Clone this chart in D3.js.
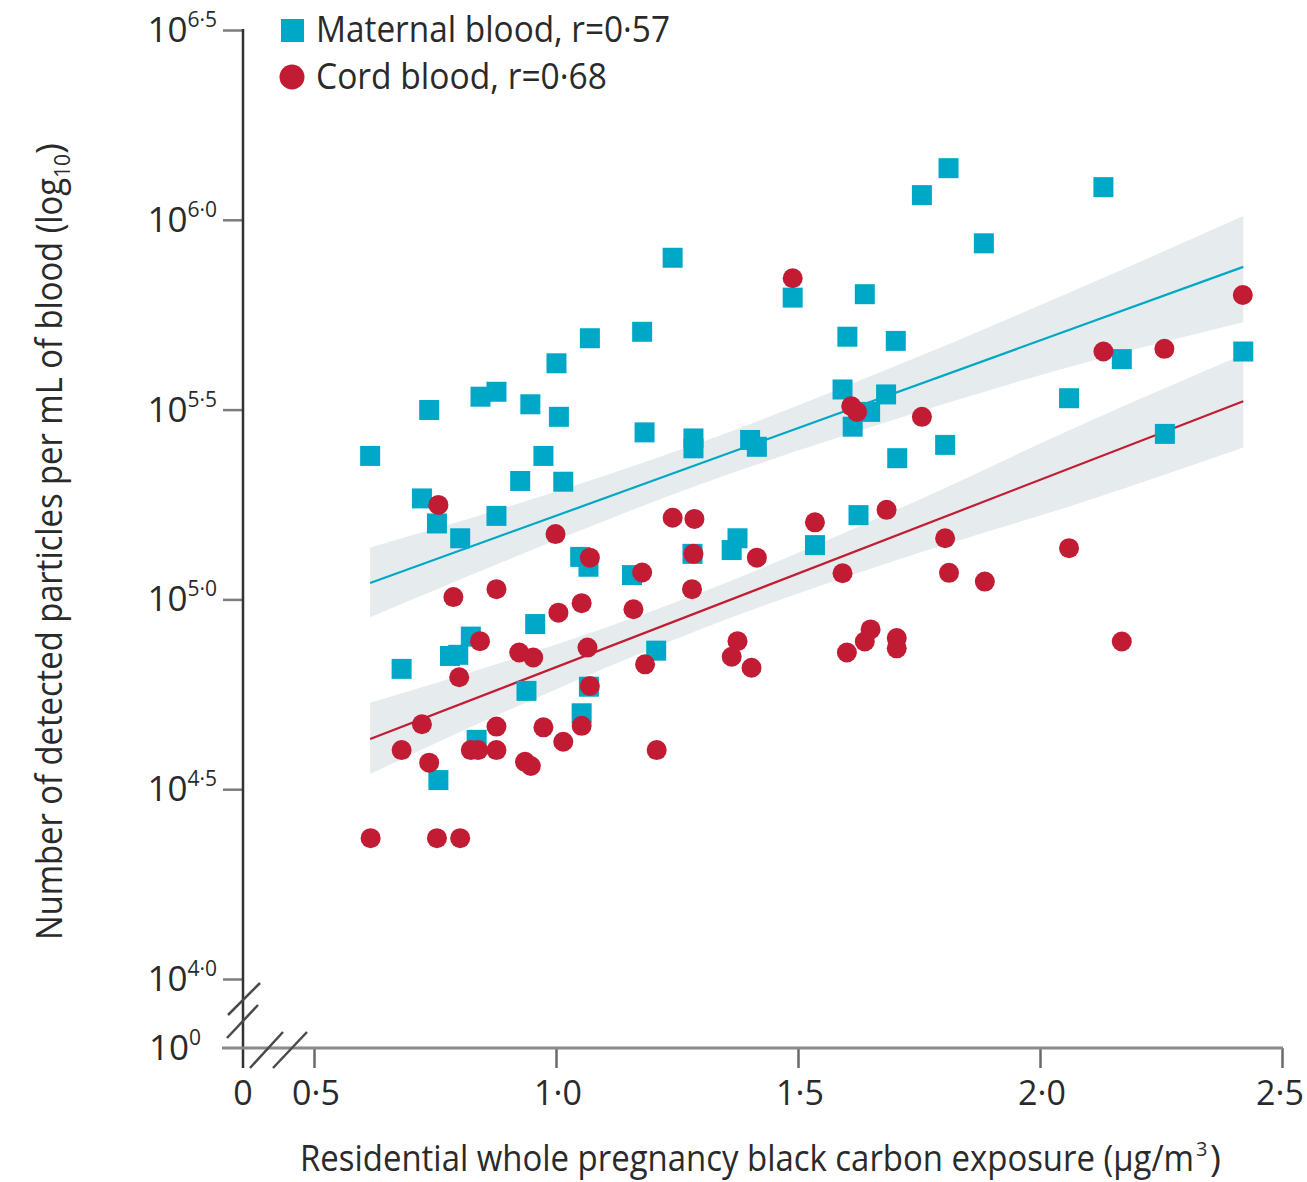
<!DOCTYPE html>
<html>
<head>
<meta charset="utf-8">
<script src="https://cdn.jsdelivr.net/npm/d3@7"></script>
<style>
  body { margin: 0; background: #fff; }
  svg { display: block; }
  text { font-family: "Open Sans", "Noto Sans", sans-serif; fill: #2a2a2a; }
</style>
</head>
<body>
<svg id="chart" width="1307" height="1182"></svg>
<script>
// Black carbon exposure (µg/m³) vs log10 particles per mL of blood
const maternalX = [0.616,0.723,0.738,0.754,0.802,0.681,0.757,0.781,0.798,0.824,
  0.844,0.877,0.877,0.836,0.926,0.947,0.974,0.957,0.939,1.001,
  1.006,1.015,1.050,1.067,1.070,1.053,1.068,1.157,1.178,1.183,
  1.207,1.241,1.284,1.284,1.282,1.363,1.375,1.401,1.415,1.489,
  1.535,1.592,1.602,1.613,1.625,1.638,1.649,1.682,1.702,1.705,
  1.756,1.811,1.804,1.884,2.060,2.131,2.169,2.258,2.420];
const maternalY = [5.378,5.266,5.499,5.200,5.161,4.817,4.524,4.851,4.854,4.902,
  5.534,5.547,5.220,4.630,5.312,5.514,5.378,4.935,4.759,5.622,
  5.481,5.310,5.112,5.086,5.688,4.700,4.770,5.064,5.705,5.440,
  4.865,5.900,5.424,5.398,5.120,5.130,5.161,5.420,5.402,5.795,
  5.143,5.553,5.692,5.455,5.222,5.804,5.494,5.540,5.681,5.372,
  6.065,6.136,5.407,5.938,5.530,6.086,5.633,5.436,5.653];

const cordX = [0.757,0.999,1.070,1.178,0.788,0.877,1.005,1.053,1.160,0.843,
  0.924,0.953,1.065,1.184,0.800,1.070,0.723,0.877,0.974,1.053,
  1.015,0.681,0.824,0.839,0.877,1.208,0.738,0.936,0.948,0.617,
  0.754,0.802,1.489,1.610,1.622,1.756,1.241,1.286,1.284,1.415,
  1.535,1.683,1.804,1.592,1.812,1.281,1.375,1.363,1.404,1.601,
  1.638,1.650,1.704,1.704,2.419,2.131,2.257,2.060,1.886,2.169];
const cordY = [5.249,5.172,5.110,5.071,5.006,5.027,4.965,4.990,4.974,4.890,
  4.860,4.847,4.873,4.829,4.795,4.772,4.671,4.665,4.663,4.667,
  4.625,4.603,4.603,4.603,4.603,4.603,4.570,4.572,4.561,4.371,
  4.371,4.371,5.846,5.509,5.494,5.481,5.215,5.212,5.120,5.110,
  5.203,5.236,5.161,5.069,5.070,5.027,4.890,4.849,4.820,4.860,
  4.889,4.921,4.898,4.871,5.802,5.653,5.660,5.135,5.047,4.889];

// Regression fits and their 95% confidence bands
const fitX = [0.616, 2.420];
const maternalFitY = [5.043, 5.876];
const cordFitY = [4.632, 5.522];
const ciX = [0.616, 0.9, 1.3, 1.7, 2.1, 2.42];
const maternalLo = [4.953, 5.104, 5.304, 5.474, 5.626, 5.730];
const maternalHi = [5.137, 5.244, 5.414, 5.614, 5.830, 6.010];
const cordLo = [4.540, 4.707, 4.922, 5.102, 5.261, 5.400];
const cordHi = [4.728, 4.839, 5.018, 5.234, 5.468, 5.645];

// Axis ticks
const xTicks = [0.5, 1.0, 1.5, 2.0, 2.5];
const xTickLabels = ["0·5", "1·0", "1·5", "2·0", "2·5"];
const yTicks = [6.5, 6.0, 5.5, 5.0, 4.5, 4.0];
const yTickExps = ["6·5", "6·0", "5·5", "5·0", "4·5", "4·0"];

const seriesNames = ["Maternal blood, r=0·57", "Cord blood, r=0·68"];

const BLUE = "#00a8c8";
const RED = "#c11c34";
const BAND = "#e6eced";

const svg = d3.select("#chart");
const x = d3.scaleLinear().domain([0.5, 2.5]).range([314, 1282]);
const y = d3.scaleLinear().domain([4.0, 6.5]).range([979, 30]);
const originX = 243;   // broken-axis origin (x = 0)
const originY = 1048;  // broken-axis origin (10^0)

// confidence bands
const area = d3.area()
  .x(d => x(d.x)).y0(d => y(d.lo)).y1(d => y(d.hi))
  .curve(d3.curveMonotoneX);
const bandData = (lo, hi) => ciX.map((v, i) => ({x: v, lo: lo[i], hi: hi[i]}));
svg.append("path").datum(bandData(maternalLo, maternalHi)).attr("d", area).attr("fill", BAND);
svg.append("path").datum(bandData(cordLo, cordHi)).attr("d", area).attr("fill", BAND);

// fit lines
const line = d3.line().x(d => x(d[0])).y(d => y(d[1]));
svg.append("path").datum(fitX.map((v, i) => [v, maternalFitY[i]]))
  .attr("d", line).attr("stroke", BLUE).attr("stroke-width", 2.2).attr("fill", "none");
svg.append("path").datum(fitX.map((v, i) => [v, cordFitY[i]]))
  .attr("d", line).attr("stroke", RED).attr("stroke-width", 2.2).attr("fill", "none");

// maternal squares
const sq = 20;
svg.append("g").selectAll("rect")
  .data(maternalX.map((v, i) => [v, maternalY[i]]))
  .join("rect")
  .attr("x", d => x(d[0]) - sq / 2).attr("y", d => y(d[1]) - sq / 2)
  .attr("width", sq).attr("height", sq).attr("fill", BLUE);

// cord circles
svg.append("g").selectAll("circle")
  .data(cordX.map((v, i) => [v, cordY[i]]))
  .join("circle")
  .attr("cx", d => x(d[0])).attr("cy", d => y(d[1]))
  .attr("r", 10).attr("fill", RED);

// y axis
const yAxis = svg.append("g").attr("transform", `translate(${originX},0)`)
  .call(d3.axisLeft(y).tickValues(yTicks).tickSize(20).tickSizeOuter(0).tickFormat(() => ""));
yAxis.select(".domain").remove();
yAxis.selectAll(".tick line").attr("stroke", "#7d7d7d").attr("stroke-width", 2.5);

svg.append("line").attr("x1", originX).attr("x2", originX)
  .attr("y1", y(6.5) - 1).attr("y2", originY + 20)
  .attr("stroke", "#333").attr("stroke-width", 2.5);

// x axis
const xAxis = svg.append("g").attr("transform", `translate(0,${originY})`)
  .call(d3.axisBottom(x).tickValues(xTicks).tickSize(20).tickSizeOuter(0).tickFormat(() => ""));
xAxis.select(".domain").remove();
xAxis.selectAll(".tick line").attr("stroke", "#6a6a6a").attr("stroke-width", 2.5);

svg.append("line").attr("x1", originX - 21).attr("x2", x(2.5) + 1)
  .attr("y1", originY).attr("y2", originY)
  .attr("stroke", "#8a8a8a").attr("stroke-width", 3);

// axis break marks
const breaks = [
  [[originX - 15, originY - 33], [originX + 17, originY - 65]],
  [[originX - 16, originY - 10], [originX + 15, originY - 43]],
  [[originX + 7, originY + 20], [originX + 40, originY - 16]],
  [[originX + 30, originY + 20], [originX + 64, originY - 16]]
];
svg.append("g").selectAll("line").data(breaks).join("line")
  .attr("x1", d => d[0][0]).attr("y1", d => d[0][1])
  .attr("x2", d => d[1][0]).attr("y2", d => d[1][1])
  .attr("stroke", "#4a4a4a").attr("stroke-width", 2.5);

// y tick labels: 10 with superscript exponent
function powerLabel(sel, px, py, exp) {
  const t = sel.append("text").attr("x", px).attr("y", py + 12)
    .attr("text-anchor", "end").style("font-size", "35px");
  t.append("tspan").text("10");
  t.append("tspan").attr("dy", -15).style("font-size", "21px").text(exp);
}
yTicks.forEach((v, i) => powerLabel(svg, originX - 26, y(v), yTickExps[i]));
powerLabel(svg, originX - 26 - 16, originY, "0");

// x tick labels
const xl = svg.append("g").style("font-size", "34px").attr("text-anchor", "middle");
xl.append("text").attr("x", originX).attr("y", originY + 57).text("0");
xTicks.forEach((v, i) => {
  const last = i === xTicks.length - 1;
  xl.append("text").attr("x", last ? x(v) - 2 : x(v) + 2).attr("y", originY + 57).text(xTickLabels[i]);
});

// x axis title, with the unit's superscript set as its own pieces
svg.append("text").attr("x", 300).attr("y", 1171)
  .attr("textLength", 894).attr("lengthAdjust", "spacingAndGlyphs")
  .style("font-size", "37px")
  .text("Residential whole pregnancy black carbon exposure (µg/m");
const xTitleEnd = 300 + 894;
svg.append("text").attr("x", xTitleEnd + 2).attr("y", 1156)
  .style("font-size", "20px").text("3");
svg.append("text").attr("x", xTitleEnd + 16).attr("y", 1171)
  .style("font-size", "37px").text(")");

// y axis title
const yt = svg.append("text")
  .attr("transform", "translate(62,940) rotate(-90)")
  .style("font-size", "37px");
yt.append("tspan")
  .attr("textLength", 762).attr("lengthAdjust", "spacingAndGlyphs")
  .text("Number of detected particles per mL of blood (log");
yt.append("tspan").attr("dy", 8).style("font-size", "21px").text("10");
yt.append("tspan").attr("dy", -8).text(")");

// legend
const lg = svg.append("g");
lg.append("rect").attr("x", 281).attr("y", 19).attr("width", 23).attr("height", 23).attr("fill", BLUE);
lg.append("circle").attr("cx", 292).attr("cy", 77).attr("r", 12.5).attr("fill", RED);
lg.append("text").attr("x", 316).attr("y", 42)
  .attr("textLength", 354).attr("lengthAdjust", "spacingAndGlyphs")
  .style("font-size", "37px").text(seriesNames[0]);
lg.append("text").attr("x", 316).attr("y", 89)
  .attr("textLength", 291).attr("lengthAdjust", "spacingAndGlyphs")
  .style("font-size", "37px").text(seriesNames[1]);
</script>
</body>
</html>
